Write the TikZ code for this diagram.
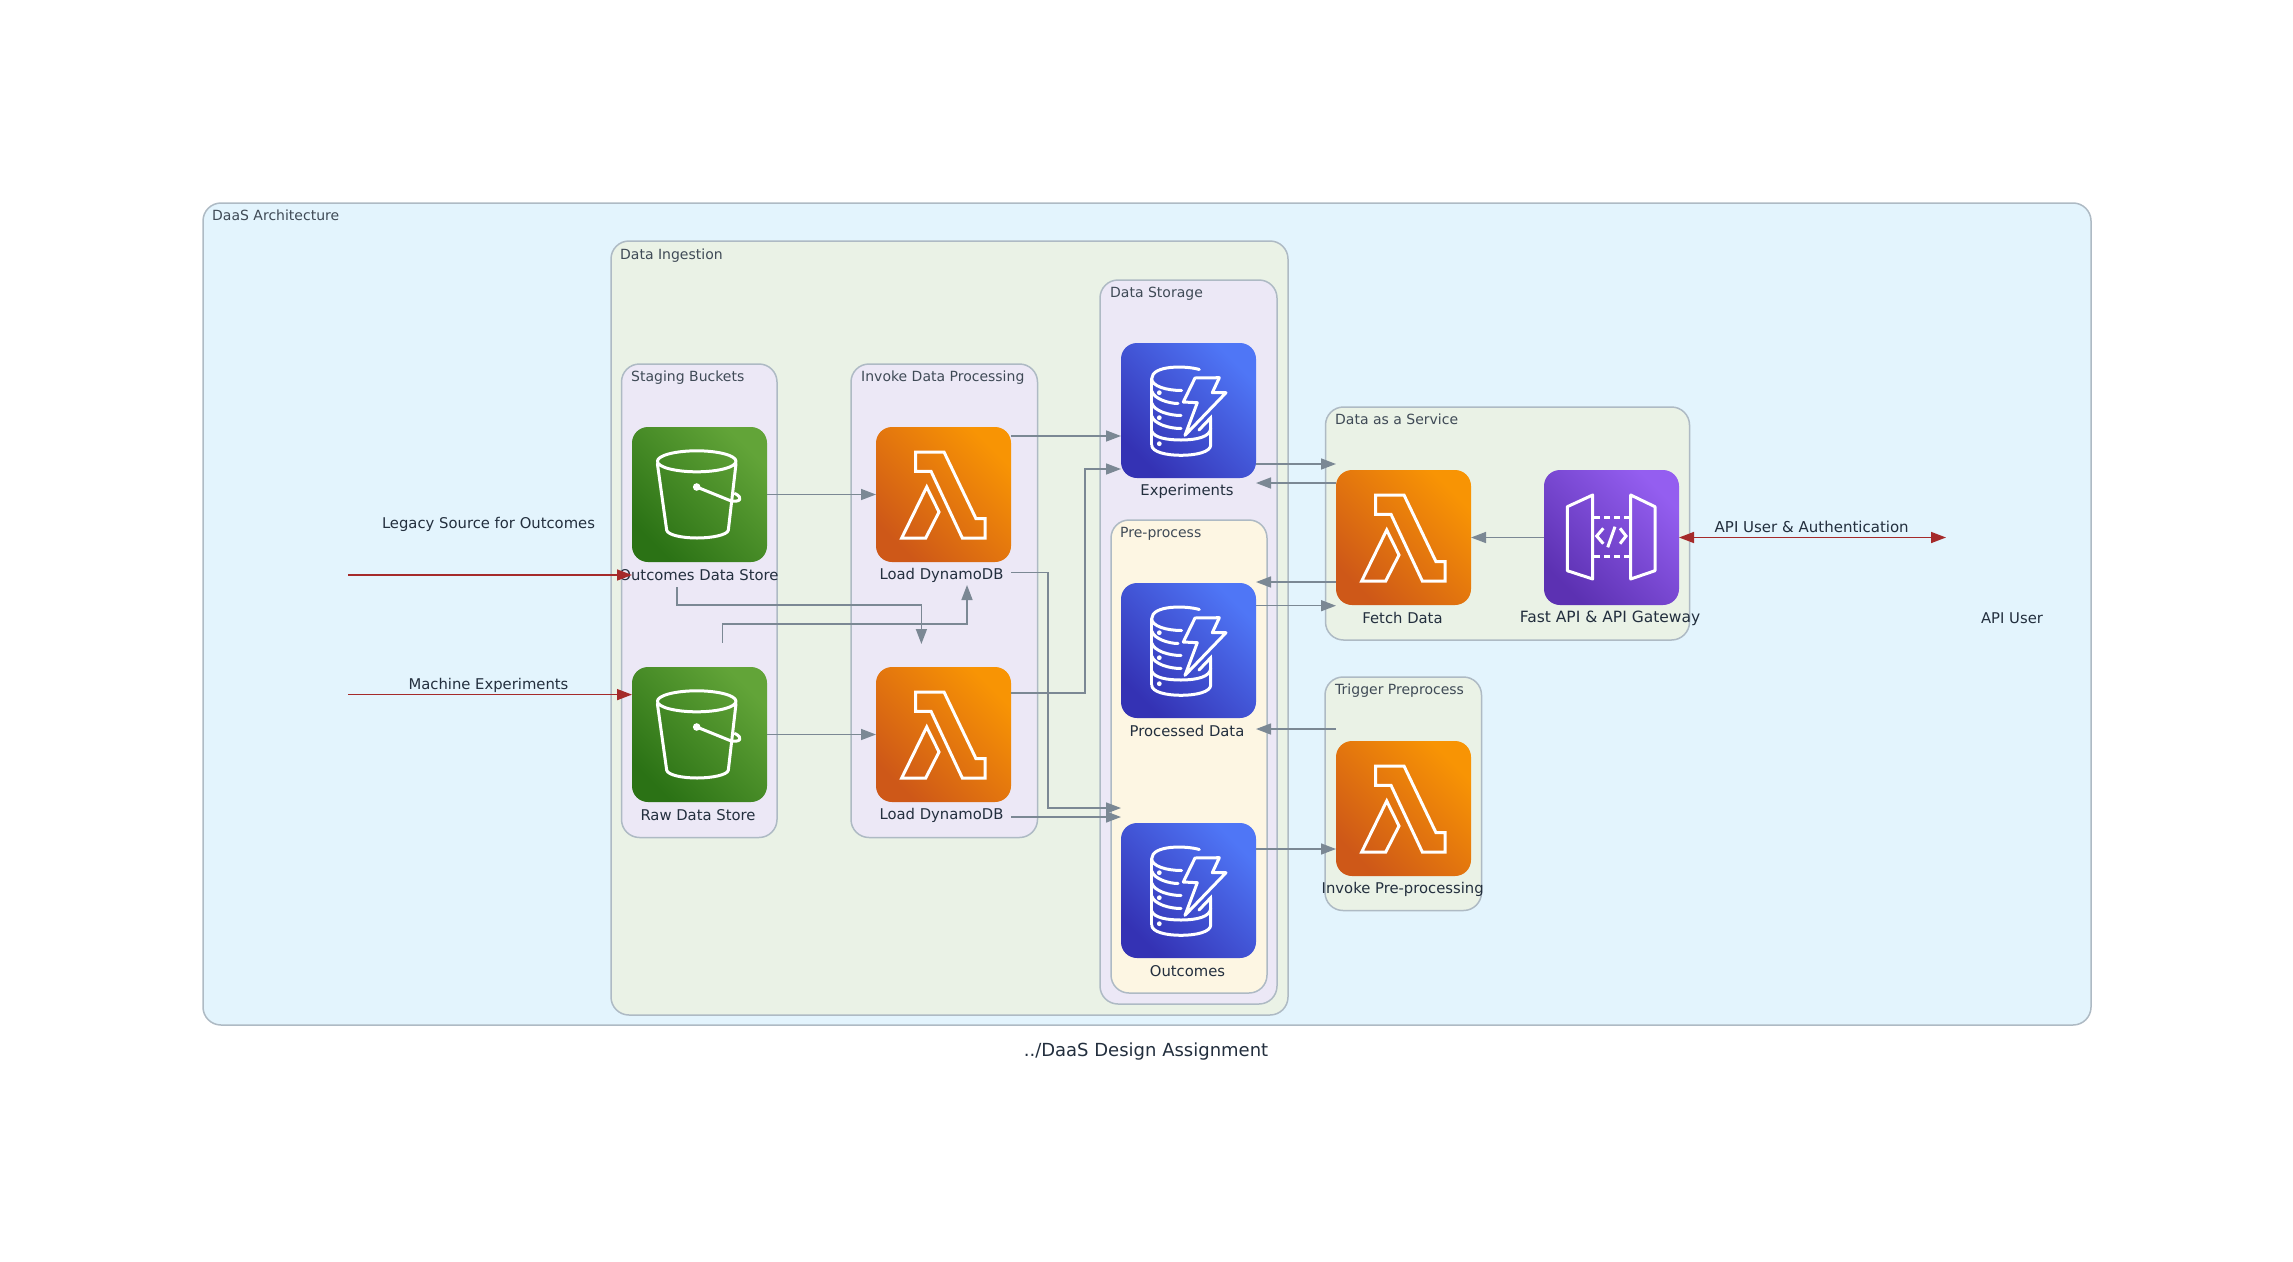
\documentclass[tikz,border=0pt]{standalone}
\usepackage{fontspec}
\setmainfont{DejaVu Sans}
\usetikzlibrary{arrows.meta}
\definecolor{edgegrey}{HTML}{7B8894}
\definecolor{edgered}{HTML}{A52A2A}
\definecolor{clusterline}{HTML}{AEBAC4}
\definecolor{txt}{HTML}{232F3E}
\definecolor{ttl}{HTML}{3F4A56}
\definecolor{blueb}{HTML}{E3F4FD}
\definecolor{greenb}{HTML}{EAF2E6}
\definecolor{purpleb}{HTML}{ECE8F6}
\definecolor{yellowb}{HTML}{FDF6E3}
\definecolor{s3a}{HTML}{2B7215}\definecolor{s3b}{HTML}{62A438}
\definecolor{lama}{HTML}{CE5818}\definecolor{lamb}{HTML}{F89404}
\definecolor{ddba}{HTML}{3432B4}\definecolor{ddbb}{HTML}{4F76F6}
\definecolor{apia}{HTML}{5C31B2}\definecolor{apib}{HTML}{945EF0}
\tikzset{
  x=1pt,y=-1pt,
  cluster/.style={draw=clusterline,line width=1.5pt,rounded corners=18pt},
  ctitle/.style={anchor=west,inner sep=0pt,text=ttl,font=\fontsize{14}{16}\selectfont},
  lbl/.style={inner sep=0pt,text=txt,font=\fontsize{14.8}{17}\selectfont},
  icon/.style={anchor=north west,minimum size=135pt,inner sep=0pt,outer sep=0pt,rounded corners=16pt},
  s3icon/.style={icon,left color=s3a,right color=s3b,shading angle=135},
  lamicon/.style={icon,left color=lama,right color=lamb,shading angle=135},
  ddbicon/.style={icon,left color=ddba,right color=ddbb,shading angle=135},
  apiicon/.style={icon,left color=apia,right color=apib,shading angle=135},
  glyph/.style={draw=white,line width=3pt,line join=miter},
  flow/.style={draw=edgegrey,line width=1.5pt,-{Triangle[length=15pt,width=11pt]}},
  redflow/.style={draw=edgered,line width=1.5pt,-{Triangle[length=15pt,width=11pt]}},
  redboth/.style={draw=edgered,line width=1.5pt,{Triangle[length=15pt,width=11pt]}-{Triangle[length=15pt,width=11pt]}}
}
\newcommand{\bucketicon}[3]{%
  \node[s3icon] (#1) at (#2,#3) {};
  \begin{scope}[shift={(#1.north west)}]
    \draw[glyph,line join=round] (64.7,34.3) ellipse [x radius=39.3,y radius=10.5];
    \draw[glyph,line join=round,line cap=round] (25.4,36.7) -- (34.7,103.3) .. controls (36,108) and (50,111) .. (65,111) .. controls (80,111) and (95,108) .. (96.3,103.3) -- (104,36.7);
    \fill[white] (64.7,60) circle (3.8);
    \draw[glyph,line cap=round,line join=round] (64.7,60) -- (98,73.5) .. controls (108,76) and (112,71) .. (103,66.5);
  \end{scope}}
\newcommand{\lambdaicon}[3]{%
  \node[lamicon] (#1) at (#2,#3) {};
  \begin{scope}[shift={(#1.north west)}]
    \draw[glyph] (39.7,25) -- (68,25) -- (100,91.7) -- (109,91.7) -- (109,111) -- (86.3,111) -- (55,44.3) -- (39.7,44.3) -- cycle;
    \draw[glyph] (50.7,60) -- (63,85) -- (49.7,111) -- (25.7,111) -- cycle;
  \end{scope}}
\newcommand{\dynamoicon}[3]{%
  \node[ddbicon] (#1) at (#2,#3) {};
  \begin{scope}[shift={(#1.north west)}]
    \draw[glyph,line cap=round] (78.3,26.5) .. controls (65,22.5) and (30.7,22) .. (30.7,35.7) .. controls (30.7,43) and (45,47.5) .. (60.7,47.5);
    \draw[glyph] (30.7,35.7) -- (30.7,102);
    \draw[glyph,line cap=round] (30.7,48) .. controls (33,56) and (48,60.5) .. (57,60.5);
    \draw[glyph,line cap=round] (30.7,60) .. controls (33,68) and (48,72.5) .. (60,72.5);
    \draw[glyph,line cap=round] (30.7,73) .. controls (33,81) and (48,85.5) .. (60,85.5);
    \draw[glyph] (30.7,102) .. controls (30.7,109) and (45,112.3) .. (60,112.3) .. controls (75,112.3) and (89.7,109) .. (89.7,102) -- (89.7,82);
    \draw[glyph] (30.7,88) .. controls (33,95) and (47,97) .. (60,97) .. controls (75,97) and (89.7,94) .. (89.7,85);
    \draw[glyph,line cap=round] (89.7,82) -- (89.5,75) -- (78,87);
    \draw[glyph,line join=round] (74,35) -- (98.3,34.7) -- (91.3,49.7) -- (105,49.7) -- (64,92.3) -- (76.3,59.7) -- (62.3,59) -- cycle;
    \fill[white] (38.3,49.7) circle (2.4) (38.3,74.7) circle (2.4) (38.3,100.7) circle (2.4);
  \end{scope}}
\newcommand{\gatewayicon}[3]{%
  \node[apiicon] (#1) at (#2,#3) {};
  \begin{scope}[shift={(#1.north west)}]
    \draw[glyph,line join=round] (48.7,25) -- (23.3,36.7) -- (23.3,100.7) -- (48.7,109) -- cycle;
    \draw[glyph,line join=round] (86.7,25) -- (111,36.7) -- (111,100.7) -- (86.7,109) -- cycle;
    \draw[glyph,dash pattern=on 6pt off 4pt] (50,47.3) -- (86,47.3);
    \draw[glyph,dash pattern=on 6pt off 4pt] (50,86.7) -- (86,86.7);
    \draw[glyph] (59.3,58.3) -- (52.7,66) -- (59.3,73.7);
    \draw[glyph] (76,58.3) -- (82,66) -- (76,73.7);
    \draw[glyph] (71,56.7) -- (63.7,77.3);
  \end{scope}}
\begin{document}
\begin{tikzpicture}
\useasboundingbox[fill=white] (0,0) rectangle (2293,1261);
% clusters
\draw[cluster,fill=blueb] (203,203) rectangle (2091,1025);
\draw[cluster,fill=greenb] (611,241) rectangle (1288,1015);
\draw[cluster,fill=purpleb] (1100,280) rectangle (1277,1004);
\draw[cluster,fill=yellowb] (1111,520) rectangle (1267,993);
\draw[cluster,fill=purpleb] (621.5,364) rectangle (777,837.5);
\draw[cluster,fill=purpleb] (851,364) rectangle (1037.5,837.5);
\draw[cluster,fill=greenb] (1325.5,407) rectangle (1689.5,640);
\draw[cluster,fill=greenb] (1325,677) rectangle (1481.5,910.5);
% cluster titles
\node[ctitle] (tDaas) at (212,215) {DaaS Architecture};
\node[ctitle] (tIngest) at (620,255.5) {Data Ingestion};
\node[ctitle] (tStore) at (1110,293.5) {Data Storage};
\node[ctitle] (tPre) at (1120,533.5) {Pre-process};
\node[ctitle] (tStage) at (631,377.5) {Staging Buckets};
\node[ctitle] (tInvoke) at (861,377.5) {Invoke Data Processing};
\node[ctitle] (tService) at (1335,419) {Data as a Service};
\node[ctitle] (tTrigger) at (1335,691) {Trigger Preprocess};
% icons
\bucketicon{sOut}{632}{427}
\bucketicon{sRaw}{632}{667}
\lambdaicon{lOne}{876}{427}
\lambdaicon{lTwo}{876}{667}
\dynamoicon{dExp}{1121}{343}
\dynamoicon{dPro}{1121}{583}
\dynamoicon{dOut}{1121}{823}
\lambdaicon{lFetch}{1336}{470}
\gatewayicon{gApi}{1544}{470}
\lambdaicon{lPre}{1336}{741}
% labels
\node[lbl] (nOut) at (699,575) {Outcomes Data Store};
\node[lbl] (nRaw) at (698,815) {Raw Data Store};
\node[lbl] (nOne) at (941.5,575) {Load DynamoDB};
\node[lbl] (nTwo) at (941.5,815) {Load DynamoDB};
\node[lbl] (nExp) at (1187,491) {Experiments};
\node[lbl] (nPro) at (1187,731) {Processed Data};
\node[lbl] (nOutc) at (1187.5,971) {Outcomes};
\node[lbl] (nFetch) at (1402.5,618) {Fetch Data};
\node[lbl,font=\fontsize{15.5}{17}\selectfont] (nApi) at (1610,618) {Fast API \& API Gateway};
\node[lbl] (nPre) at (1402.7,889) {Invoke Pre-processing};
\node[lbl] (nUser) at (2012,618) {API User};
\node[lbl] (nLegacy) at (488.5,524) {Legacy Source for Outcomes};
\node[lbl] (nMachine) at (488.5,685) {Machine Experiments};
\node[lbl,font=\fontsize{15}{17}\selectfont] (nAuth) at (1811.7,527) {API User \& Authentication};
\node[lbl,font=\fontsize{18}{20}\selectfont] (nTitle) at (1146,1052) {../DaaS Design Assignment};
% free ends
\coordinate (legacyEnd) at (348,575);
\coordinate (machineEnd) at (348,694.6);
\coordinate (userEnd) at (1946,537.5);
\coordinate (oStart) at (677,587);
\coordinate (oTurn) at (677,605);
\coordinate (oDrop) at (921.4,605);
\coordinate (oTip) at (921.4,644);
\coordinate (rStart) at (722.4,642.7);
\coordinate (rTurn) at (722.4,624);
\coordinate (rRise) at (967,624);
\coordinate (rTip) at (967,585);
% connectors
\draw[redflow] (legacyEnd) -- (legacyEnd -| sOut.west);
\draw[redflow] (machineEnd) -- (machineEnd -| sRaw.west);
\draw[redboth] (gApi.east) -- (userEnd);
\draw[flow] (sOut.east) -- (lOne.west);
\draw[flow] (sRaw.east) -- (lTwo.west);
\draw[flow] (oStart) -- (oTurn) -- (oDrop) -- (oTip);
\draw[flow] (rStart) -- (rTurn) -- (rRise) -- (rTip);
\draw[flow] ([yshift=-25.5pt]dExp.west -| lOne.east) -- ([yshift=-25.5pt]dExp.west);
\draw[flow] ([yshift=41.5pt]lTwo.east) -- ++(74,0) |- ([yshift=-58.5pt]dExp.west);
\draw[flow] ([yshift=-78pt]lOne.east) -- ++(37,0) |- ([yshift=82.5pt]dOut.west);
\draw[flow] ([yshift=-82.5pt]lTwo.east) -- ([yshift=73.5pt]dOut.west);
\draw[flow] ([yshift=-53.5pt]dExp.east) -- ([yshift=-53.5pt]dExp.east -| lFetch.west);
\draw[flow] ([yshift=54.5pt]lFetch.west) -- ([yshift=54.5pt]lFetch.west -| dExp.east);
\draw[flow] ([yshift=-44.5pt]lFetch.west) -- ([yshift=-44.5pt]lFetch.west -| dExp.east);
\draw[flow] ([yshift=44.8pt]dPro.east) -- ([yshift=44.8pt]dPro.east -| lFetch.west);
\draw[flow] (gApi.west) -- (lFetch.east);
\draw[flow] ([yshift=79.5pt]lPre.west) -- ([yshift=79.5pt]lPre.west -| dPro.east);
\draw[flow] ([yshift=41.5pt]dOut.east) -- ([yshift=41.5pt]dOut.east -| lPre.west);
\end{tikzpicture}
\end{document}
